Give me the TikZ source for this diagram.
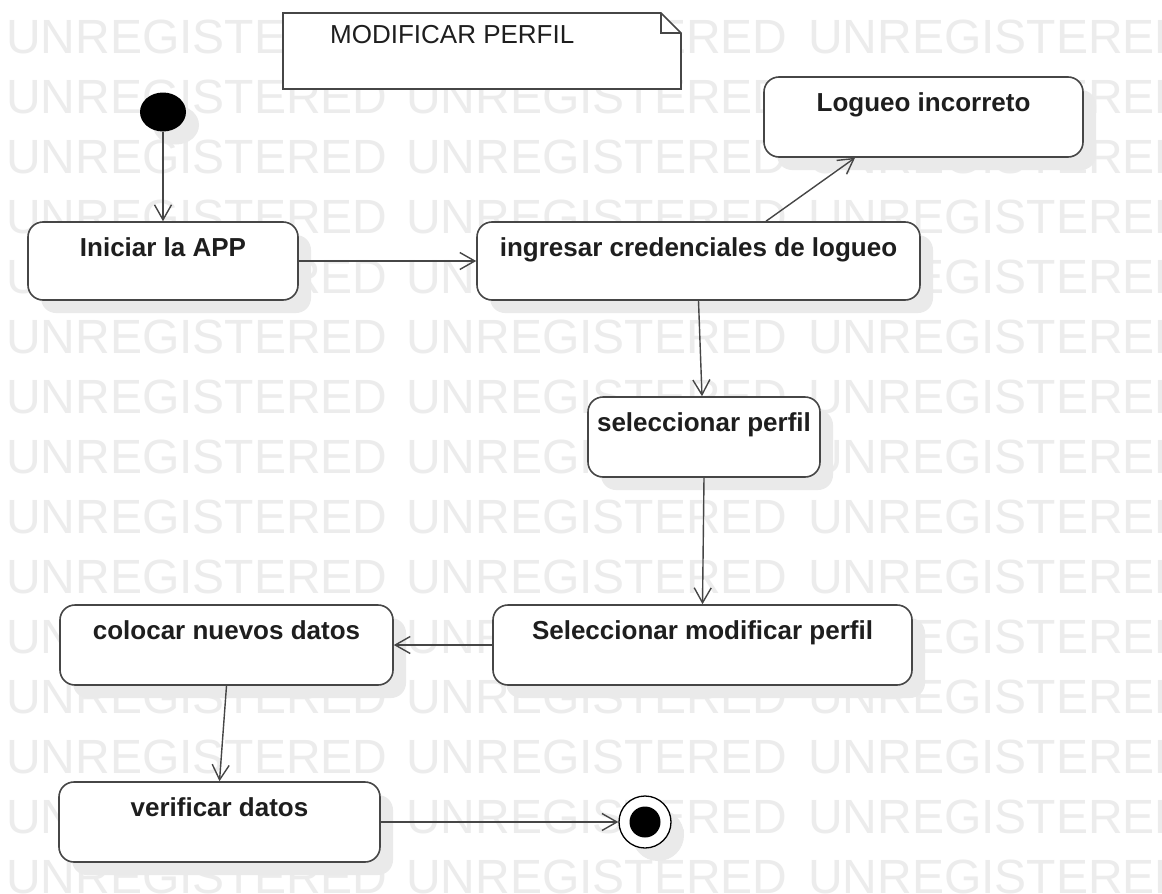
\documentclass[tikz,border=0pt]{standalone}
\usepackage{fontspec}
\setmainfont{Liberation Sans}
\usetikzlibrary{arrows.meta,shadows,shapes.geometric}
\definecolor{ink}{RGB}{30,30,30}
\definecolor{edge}{RGB}{70,70,70}
\definecolor{wm}{RGB}{236,236,236}
\definecolor{shade}{RGB}{234,234,234}

\begin{document}
\begin{tikzpicture}[x=1pt,y=-1pt,
  watermark/.style={anchor=base west, inner sep=0pt, text=wm,
    font=\fontsize{48}{48}\selectfont},
  softshadow/.style={drop shadow={shadow xshift=13pt, shadow yshift=-13pt,
    fill=shade, opacity=1}},
  activity/.style={draw=edge, line width=1.6pt, rounded corners=15pt,
    fill=white, inner xsep=0pt, inner ysep=0pt, text height=34pt,
    text=ink, font=\fontsize{26}{26}\selectfont\bfseries, softshadow},
  flow/.style={draw=edge, line width=1.4pt,
    -{Straight Barb[length=15pt,width=17pt,line width=1.4pt]}},
]
\useasboundingbox (0,0) rectangle (1162,894);
\clip (0,0) rectangle (1162,894);
\fill[white] (0,0) rectangle (1162,894);

% background stamp rows
\foreach \r in {0,...,14} {
  \foreach \c in {6,406,808} {
    \node[watermark] (wm-\r-\c) at (\c, 53+60*\r) {UNREGISTERED};
  }
}

% title note with folded corner
\draw[draw=edge, line width=1.6pt, fill=white]
  (283,13) -- (661,13) -- (681,33) -- (681,89) -- (283,89) -- cycle;
\draw[draw=edge, line width=1.4pt] (661,13) -- (661,33) -- (681,33);
\node[anchor=base west, inner sep=0pt, text=ink,
  font=\fontsize{26}{26}\selectfont] (title) at (330,43) {MODIFICAR PERFIL};

% start and end
\node[ellipse, fill=black, minimum width=46pt, minimum height=39pt,
  inner sep=0pt, softshadow] (init) at (163,112) {};
\node[circle, draw=black, line width=1.3pt, fill=white, minimum size=52pt,
  inner sep=0pt, softshadow] (final) at (645,822) {};
\fill[black] (final.center) circle (15.5pt);

% activities
\node[activity, minimum width=270pt, text depth=44pt] (iniciar) at (163,261) {Iniciar la APP};
\node[activity, minimum width=443pt, text depth=44pt] (ingresar) at (698.5,261) {ingresar credenciales de logueo};
\node[activity, minimum width=319pt, text depth=46pt] (logueo) at (923.5,117) {Logueo incorreto};
\node[activity, minimum width=232pt, text depth=46pt] (selperfil) at (704,437) {seleccionar perfil};
\node[activity, minimum width=419pt, text depth=46pt] (modificar) at (702.5,645) {Seleccionar modificar perfil};
\node[activity, minimum width=333pt, text depth=46pt] (colocar) at (226.5,645) {colocar nuevos datos};
\node[activity, minimum width=321pt, text depth=46pt] (verificar) at (219.5,822) {verificar datos};

% transitions
\draw[flow] (init.south) -- (iniciar.north);
\draw[flow] (iniciar.east) -- (ingresar.west);
\draw[flow] ([xshift=67.5pt]ingresar.north) -- ([xshift=-68.5pt]logueo.south);
\draw[flow] (ingresar.south) -- ([xshift=-2pt]selperfil.north);
\draw[flow] (selperfil.south) -- (modificar.north);
\draw[flow] (modificar.west) -- (colocar.east);
\draw[flow] (colocar.south) -- (verificar.north);
\draw[flow] (verificar.east) -- (final.west);
\end{tikzpicture}
\end{document}
